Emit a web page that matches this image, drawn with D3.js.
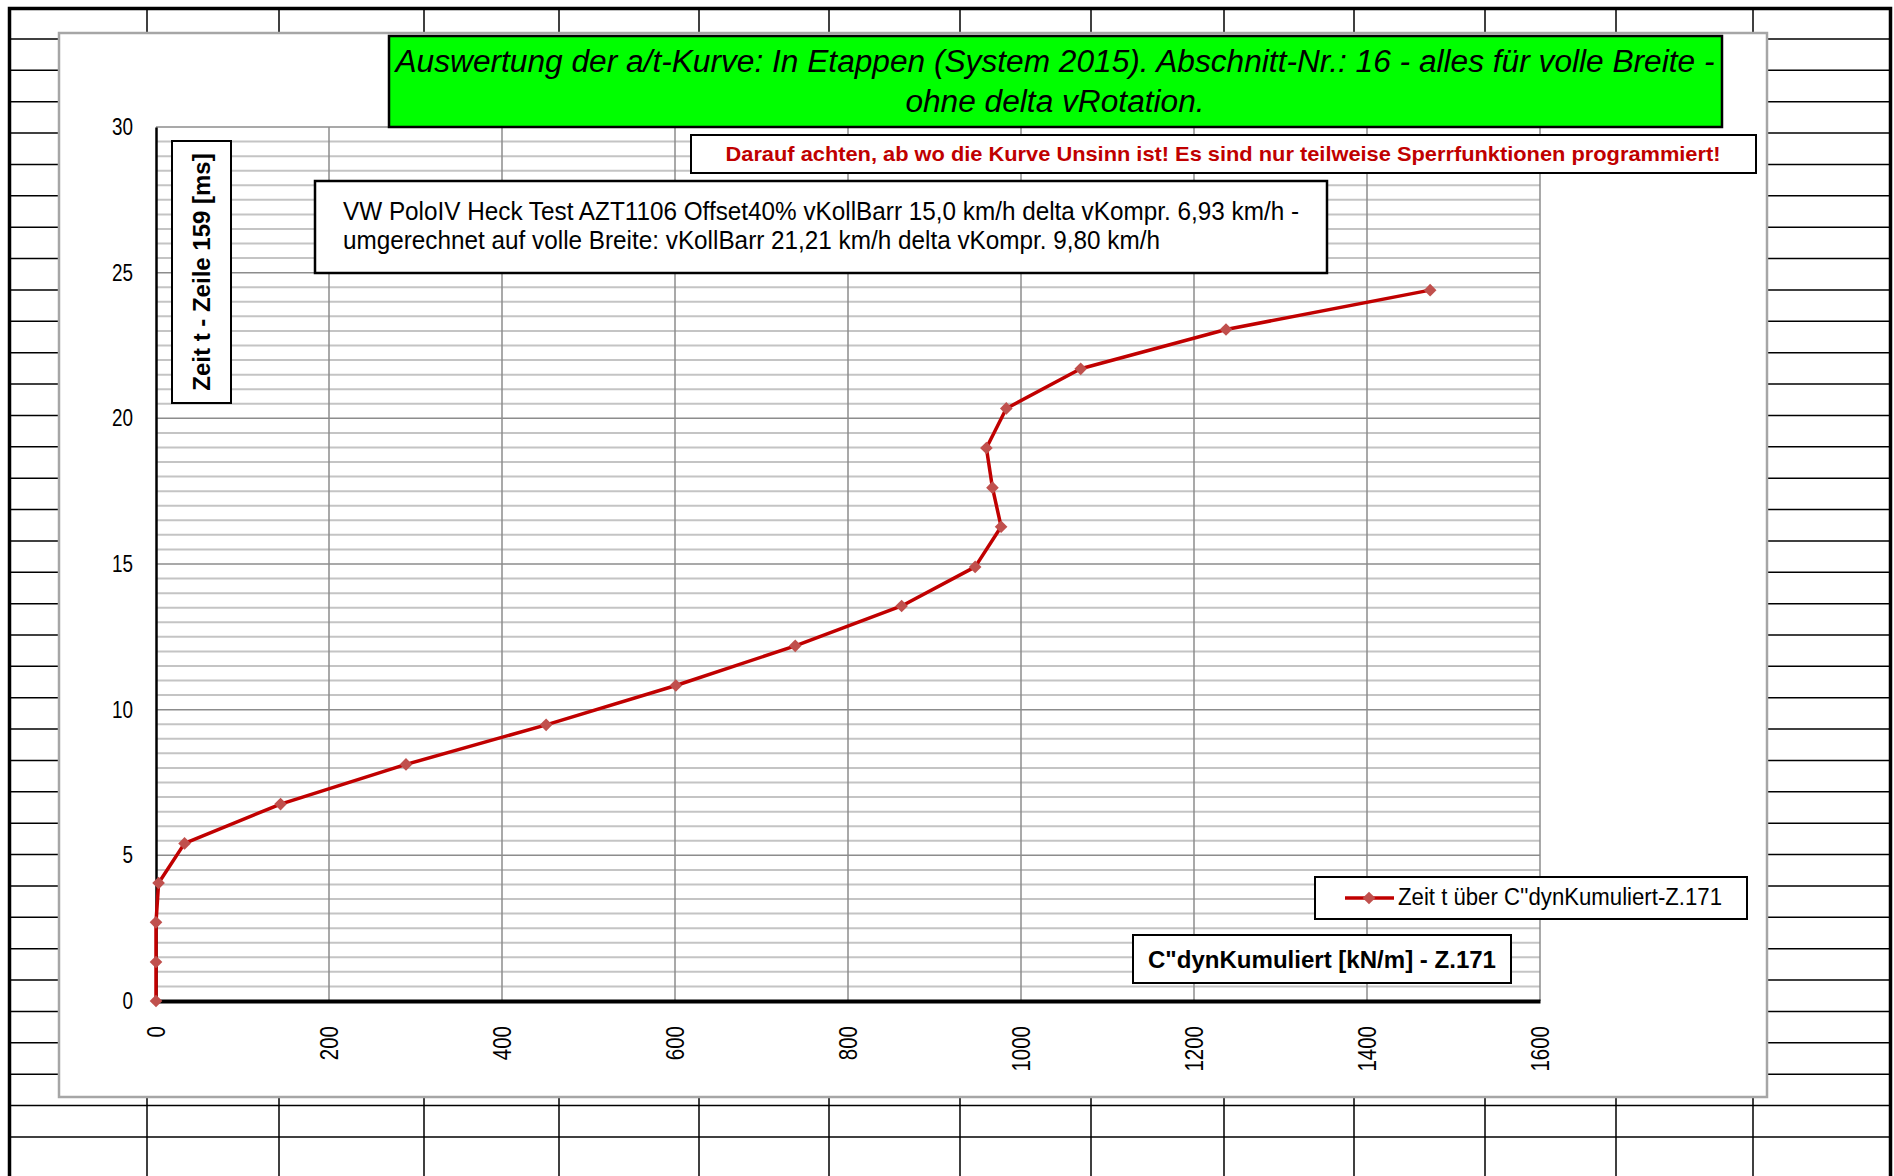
<!DOCTYPE html>
<html>
<head>
<meta charset="utf-8">
<script src="https://cdn.jsdelivr.net/npm/d3@7"></script>
<style>
  body { margin: 0; background: #fff; }
  text { font-family: "Liberation Sans", Arial, sans-serif; }
</style>
</head>
<body>
<div id="chart"></div>
<script>
const width = 1894;
const height = 1176;

// series: Zeit t über C''dynKumuliert
const cdynKumuliert = [0, 0, 0, 3, 33, 144, 289, 451, 601, 739, 862, 947, 977, 967, 960, 983, 1069, 1237, 1473];
const zeitT = [0, 1.34, 2.70, 4.05, 5.41, 6.76, 8.12, 9.48, 10.83, 12.19, 13.56, 14.90, 16.28, 17.62, 18.98, 20.34, 21.70, 23.05, 24.40];

const xTicks = [0, 200, 400, 600, 800, 1000, 1200, 1400, 1600];
const yTicks = [0, 5, 10, 15, 20, 25, 30];

const seriesName = "Zeit t über C''dynKumuliert-Z.171";
const titleLines = [
    "Auswertung der a/t-Kurve: In Etappen (System 2015). Abschnitt-Nr.: 16 - alles für volle Breite -",
    "ohne delta vRotation."
];
const hinweis = "Darauf achten, ab wo die Kurve Unsinn ist! Es sind nur teilweise Sperrfunktionen programmiert!";
const infoLines = [
    "VW PoloIV Heck Test AZT1106 Offset40% vKollBarr 15,0 km/h delta vKompr. 6,93 km/h -",
    "umgerechnet auf volle Breite:  vKollBarr 21,21 km/h delta vKompr. 9,80 km/h"
];
const yTitle = "Zeit t - Zeile 159 [ms]";
const xTitle = 'C"dynKumuliert [kN/m] - Z.171';

const svg = d3.select("#chart")
    .append("svg")
    .attr("width", width)
    .attr("height", height);

// squeeze a group of text lines; the first line sets the ratio
function condense(sel, firstWidth) {
    let ratio = null;
    sel.each(function() {
        const w = this.getComputedTextLength();
        if (ratio === null) ratio = firstWidth ? firstWidth / w : 0.82;
        d3.select(this)
            .attr("textLength", w * ratio)
            .attr("lengthAdjust", "spacingAndGlyphs");
    });
}

// spreadsheet cells behind the chart object
const sheet = svg.append("g").attr("stroke", "#000").attr("stroke-width", 1.5);
const colX = [147, 279, 424, 559, 699, 829, 960, 1091, 1224, 1354, 1485, 1616, 1753];
const rowY = d3.range(1, 37).map(k => 7.6 + 31.37 * k);
const chartBox = { left: 59, top: 33, right: 1767, bottom: 1097 };

rowY.forEach(y => {
    if (y > chartBox.bottom) {
        sheet.append("line").attr("x1", 10).attr("x2", 1890).attr("y1", y).attr("y2", y);
    } else {
        sheet.append("line").attr("x1", 10).attr("x2", chartBox.left).attr("y1", y).attr("y2", y);
        sheet.append("line").attr("x1", chartBox.right).attr("x2", 1890).attr("y1", y).attr("y2", y);
    }
});
colX.forEach(x => {
    sheet.append("line").attr("x1", x).attr("x2", x).attr("y1", 8).attr("y2", chartBox.top);
    sheet.append("line").attr("x1", x).attr("x2", x).attr("y1", chartBox.bottom).attr("y2", height);
});
sheet.append("path")
    .attr("d", `M9.5,${height} V8.5 H1890.5 V${height}`)
    .attr("fill", "none")
    .attr("stroke-width", 3.5);

// chart object
svg.append("rect")
    .attr("x", chartBox.left)
    .attr("y", chartBox.top)
    .attr("width", chartBox.right - chartBox.left)
    .attr("height", chartBox.bottom - chartBox.top)
    .attr("fill", "#fff")
    .attr("stroke", "#a6a6a6")
    .attr("stroke-width", 2.5);

const x = d3.scaleLinear().domain([0, 1600]).range([156, 1540]);
const y = d3.scaleLinear().domain([0, 30]).range([1001, 127]);

// gridlines
const grid = svg.append("g");
grid.selectAll(".minor")
    .data(y.ticks(60).filter(v => v % 5 !== 0))
    .enter().append("line")
    .attr("x1", x(0)).attr("x2", x(1600))
    .attr("y1", d => y(d)).attr("y2", d => y(d))
    .attr("stroke", "#c4c4c4")
    .attr("stroke-width", 2);
grid.selectAll(".majorY")
    .data(yTicks.filter(v => v > 0))
    .enter().append("line")
    .attr("x1", x(0)).attr("x2", x(1600))
    .attr("y1", d => y(d)).attr("y2", d => y(d))
    .attr("stroke", "#8c8c8c")
    .attr("stroke-width", 1.5);
grid.selectAll(".majorX")
    .data(xTicks.filter(v => v > 0))
    .enter().append("line")
    .attr("x1", d => x(d)).attr("x2", d => x(d))
    .attr("y1", y(0)).attr("y2", y(30))
    .attr("stroke", "#8c8c8c")
    .attr("stroke-width", 1.5);

// axes
const yAxis = svg.append("g")
    .attr("transform", `translate(${x(0)},0)`)
    .call(d3.axisLeft(y).tickValues(yTicks).tickSize(0).tickPadding(23));
yAxis.select(".domain").attr("stroke", "#000").attr("stroke-width", 2.5);
yAxis.selectAll("text")
    .attr("fill", "#000")
    .style("font-size", "23px")
    .style("font-family", '"Liberation Sans", Arial, sans-serif')
    .each(function() { condense(d3.select(this)); });

const xAxis = svg.append("g")
    .attr("transform", `translate(0,${y(0)})`)
    .call(d3.axisBottom(x).tickValues(xTicks).tickSize(0).tickFormat(d3.format("d")));
xAxis.select(".domain").attr("stroke", "#000").attr("stroke-width", 4);
xAxis.selectAll("text")
    .attr("transform", "rotate(-90)")
    .attr("x", -25)
    .attr("y", 0)
    .attr("dy", "0.35em")
    .attr("fill", "#000")
    .style("text-anchor", "end")
    .style("font-size", "25px")
    .style("font-family", '"Liberation Sans", Arial, sans-serif')
    .each(function() { condense(d3.select(this)); });

// series
const points = cdynKumuliert.map((c, i) => ({ c: c, t: zeitT[i] }));
const line = d3.line().x(d => x(d.c)).y(d => y(d.t));

svg.append("path")
    .datum(points)
    .attr("d", line)
    .attr("fill", "none")
    .attr("stroke", "#c00000")
    .attr("stroke-width", 3.5)
    .attr("stroke-linejoin", "round");

const diamond = d3.symbol().type(d3.symbolSquare).size(80);
svg.append("g").selectAll("path")
    .data(points)
    .enter().append("path")
    .attr("d", diamond)
    .attr("transform", d => `translate(${x(d.c)},${y(d.t)}) rotate(45)`)
    .attr("fill", "#c0504d");

// text boxes
function box(x0, y0, w, h, fill, strokeWidth) {
    return svg.append("rect")
        .attr("x", x0).attr("y", y0)
        .attr("width", w).attr("height", h)
        .attr("fill", fill)
        .attr("stroke", "#000")
        .attr("stroke-width", strokeWidth);
}

// title
box(389, 36, 1333, 91, "#00ff00", 2.5);
const title = svg.append("g").selectAll("text")
    .data(titleLines)
    .enter().append("text")
    .attr("x", 1055)
    .attr("y", (d, i) => 72 + i * 40)
    .attr("text-anchor", "middle")
    .style("font-size", "31px")
    .style("font-style", "italic")
    .text(d => d);
condense(title, 1319);

// warning
box(691, 135, 1065, 38, "#fff", 2);
const warn = svg.append("text")
    .attr("x", 1223)
    .attr("y", 161)
    .attr("text-anchor", "middle")
    .attr("fill", "#c00000")
    .style("font-size", "21px")
    .style("font-weight", "bold")
    .text(hinweis);
condense(warn, 995);

// info
box(315, 181, 1012, 92, "#fff", 2.5);
const info = svg.append("g").selectAll("text")
    .data(infoLines)
    .enter().append("text")
    .attr("x", 343)
    .attr("y", (d, i) => 220 + i * 29)
    .style("font-size", "25px")
    .text(d => d);
condense(info, 956);

// y title
box(172, 141, 59, 262, "#fff", 2);
svg.append("text")
    .attr("transform", "translate(202,272) rotate(-90)")
    .attr("text-anchor", "middle")
    .attr("dy", "0.35em")
    .style("font-size", "24px")
    .style("font-weight", "bold")
    .text(yTitle);

// x title
box(1133, 935, 378, 48, "#fff", 2);
const xt = svg.append("text")
    .attr("x", 1322)
    .attr("y", 968)
    .attr("text-anchor", "middle")
    .style("font-size", "24px")
    .style("font-weight", "bold")
    .text(xTitle);
condense(xt, 348);

// legend
box(1315, 877, 432, 42, "#fff", 2);
svg.append("line")
    .attr("x1", 1345).attr("x2", 1394)
    .attr("y1", 898).attr("y2", 898)
    .attr("stroke", "#c00000")
    .attr("stroke-width", 3.5);
svg.append("path")
    .attr("d", diamond)
    .attr("transform", "translate(1369,898) rotate(45)")
    .attr("fill", "#c0504d");
const lt = svg.append("text")
    .attr("x", 1398)
    .attr("y", 905)
    .style("font-size", "23px")
    .text(seriesName);
condense(lt, 324);
</script>
</body>
</html>
